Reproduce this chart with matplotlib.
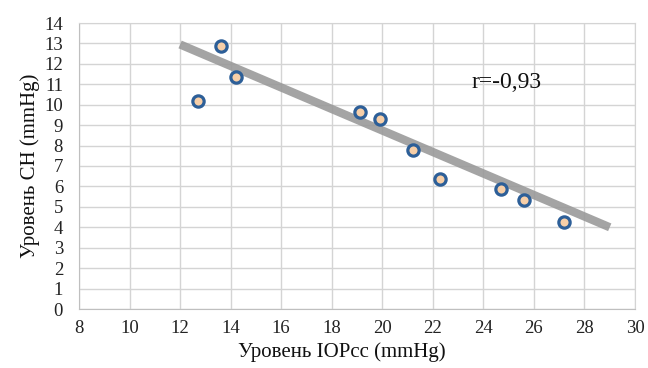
import matplotlib
matplotlib.use("Agg")
import matplotlib.pyplot as plt

iop = [12.7, 13.6, 14.2, 19.1, 19.9, 21.2, 22.3, 24.7, 25.6, 27.2]
ch = [10.2, 12.85, 11.35, 9.65, 9.3, 7.8, 6.35, 5.85, 5.35, 4.25]
trend_x = [12, 29]
trend_y = [12.95, 4.0]
x_ticks = list(range(8, 31, 2))
y_ticks = list(range(0, 15))
r_label = "r=-0,93"
x_label = "Уровень IOPcc (mmHg)"
y_label = "Уровень CH (mmHg)"

plt.rcParams['font.family'] = ['Liberation Serif', 'DejaVu Serif']

fig = plt.figure(figsize=(6.48, 3.68), dpi=100)
ax = fig.add_axes([79/648, 1-309/368, (635-79)/648, (309-23)/368])

ax.plot(trend_x, trend_y, color='#9a9a9a', lw=6, solid_capstyle='butt', zorder=2, alpha=0.9)
ax.scatter(iop, ch, s=66, facecolor='#f7cfa8', edgecolor='#2d5f98', linewidths=2.3, zorder=3)

ax.set_xlim(8, 30)
ax.set_ylim(0, 14)
ax.set_xticks(x_ticks)
ax.set_yticks(y_ticks)
ax.grid(True, color='#d4d4d4', lw=1)
ax.set_axisbelow(True)
for s in ax.spines.values():
    s.set_color('#d4d4d4')
ax.spines['left'].set_color('#bfbfbf')
ax.spines['bottom'].set_color('#bfbfbf')
ax.tick_params(length=0, labelsize=13.5, colors='#222222')
ax.tick_params(axis='y', pad=11.5)
ax.tick_params(axis='x', pad=8)

ax.text(23.55, 11.1, r_label, fontsize=17, color='#111111', va='center', ha='left')
ax.set_xlabel(x_label, fontsize=15, color='#111111', labelpad=1)
ax.xaxis.set_label_coords(0.473, -0.115)
ax.set_ylabel(y_label, fontsize=15, color='#111111', labelpad=3)

fig.savefig('out.png', dpi=100)
